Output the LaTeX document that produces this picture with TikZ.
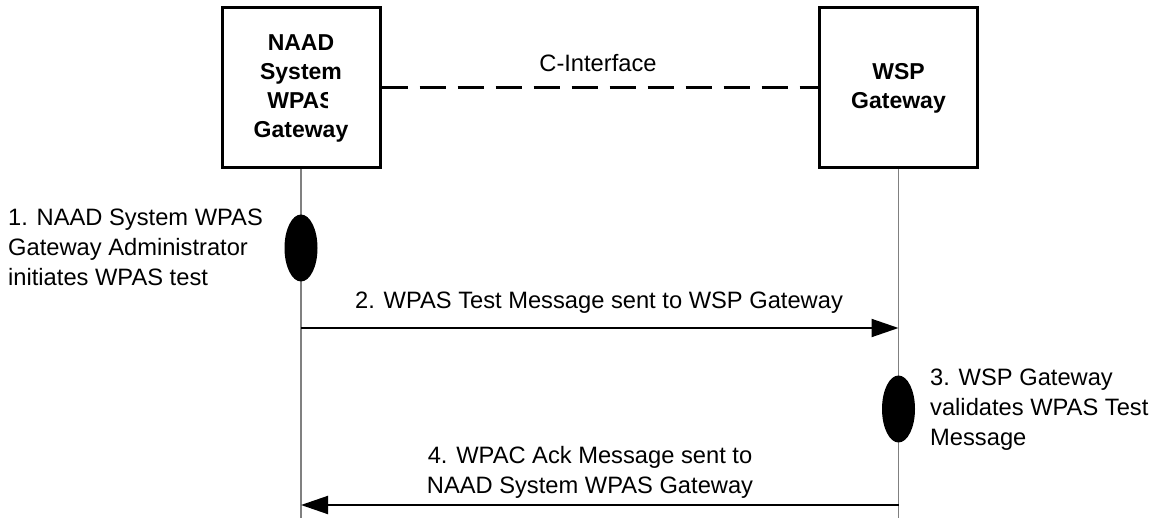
\documentclass[tikz,border=0pt]{standalone}
\usepackage{fontspec}
\setmainfont{Liberation Sans}
\usepackage{trimclip}
\usetikzlibrary{arrows.meta,shapes.geometric}

% an S whose right half is cut away, keeping its full width
\newcommand{\halfS}{\rlap{\clipbox{0pt 0pt {0.45\width} 0pt}{S}}\phantom{S}}

\tikzset{
  entity/.style={draw, line width=3pt, minimum width=158pt, minimum height=160pt,
                 align=center, font=\fontsize{23}{29}\selectfont\bfseries},
  lifeline/.style={draw=gray, line width=1.2pt},
  activity/.style={ellipse, fill=black, minimum width=33pt, minimum height=67pt, inner sep=0pt},
  msg/.style={line width=2pt, -{Triangle[length=27pt,width=18pt]}},
  lbl/.style={font=\fontsize{23.7}{30}\selectfont, inner sep=0pt},
  iface/.style={line width=3pt, dash pattern=on 26pt off 12pt}
}

\begin{document}
\begin{tikzpicture}[x=1pt, y=-1pt]
  \useasboundingbox (0,0) rectangle (1157,518);

  % the two gateways
  \node[entity] (naad) at (301,88) {NAAD\\System\\WPA\halfS\\Gateway};
  \node[entity] (wsp) at (898.5,88) {WSP\\Gateway};

  % C-Interface link between them
  \draw[iface] (naad.east) -- (wsp.west);
  \node[lbl] (cif) at (598,63) {C-Interface};

  % lifelines
  \coordinate (naadEnd) at (301,518);
  \coordinate (wspEnd) at (898.5,518);
  \draw[lifeline] (naad.south) -- (naadEnd);
  \draw[lifeline] (wsp.south) -- (wspEnd);

  % step 1
  \node[activity] (act1) at (301,248) {};
  \node[lbl, anchor=west, align=left] (txt1) at (8,247)
    {1. NAAD System WPAS\\Gateway Administrator\\initiates WPAS test};

  % step 2
  \coordinate (m2a) at (301,328);
  \coordinate (m2b) at (898.5,328);
  \draw[msg] (m2a) -- (m2b);
  \node[lbl] (txt2) at (599,303) {2. WPAS Test Message sent to WSP Gateway};

  % step 3
  \node[activity] (act3) at (898.5,409) {};
  \node[lbl, anchor=west, align=left] (txt3) at (930,410)
    {3. WSP Gateway\\validates WPAS Test\\Message};

  % step 4
  \coordinate (m4a) at (898.5,505);
  \coordinate (m4b) at (301,505);
  \draw[msg] (m4a) -- (m4b);
  \node[lbl, align=center] (txt4) at (590,472)
    {4. WPAC Ack Message sent to\\NAAD System WPAS Gateway};
\end{tikzpicture}
\end{document}
